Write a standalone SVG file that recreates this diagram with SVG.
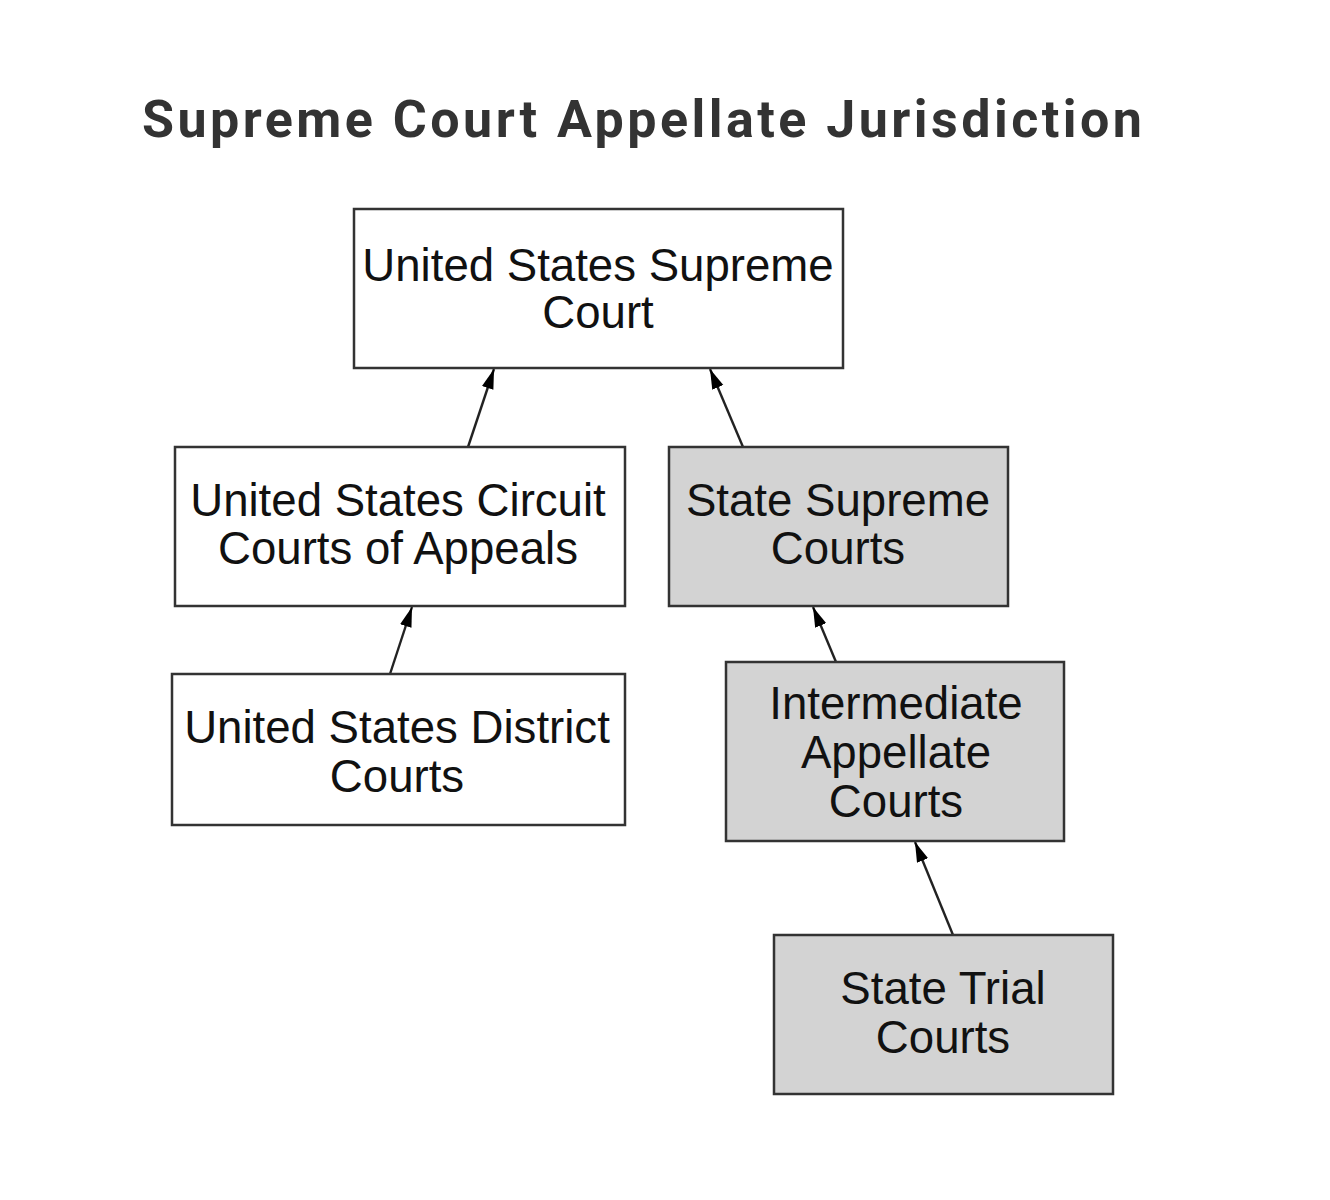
<svg xmlns="http://www.w3.org/2000/svg" width="1330" height="1200" viewBox="0 0 1330 1200">
<style>
.box{stroke:#333;stroke-width:2.5}
.white{fill:#ffffff}
.grey{fill:#d3d3d3}
.lbl{font-family:"Liberation Sans",Arial,sans-serif;font-size:45.6px;fill:#111;text-anchor:middle}
.title{font-family:Roboto,"Liberation Sans",sans-serif;font-weight:bold;font-size:52px;fill:#333}
.edge{stroke:#222;stroke-width:2.4;fill:none;marker-end:url(#arr)}
</style>
<defs>
<marker id="arr" markerUnits="userSpaceOnUse" markerWidth="22" markerHeight="14" refX="20" refY="6" orient="auto">
<path d="M0,0 L20,6 L0,12 Z" fill="#000"/>
</marker>
</defs>
<rect width="1330" height="1200" fill="#ffffff"/>
<text class="title" x="142" y="137" textLength="1000" lengthAdjust="spacing">Supreme Court Appellate Jurisdiction</text>
<g id="connectors">
<line class="edge" x1="468" y1="447" x2="494" y2="369"/>
<line class="edge" x1="743" y1="447" x2="710" y2="369"/>
<line class="edge" x1="390" y1="674" x2="412" y2="607"/>
<line class="edge" x1="836" y1="662" x2="813" y2="607"/>
<line class="edge" x1="953" y1="935" x2="915" y2="842"/>
</g>
<g id="us-supreme-court">
<rect class="box white" x="354" y="209" width="489" height="159"/>
<text class="lbl" x="598" y="281">United States Supreme</text>
<text class="lbl" x="598" y="328">Court</text>
</g>
<g id="us-circuit-courts">
<rect class="box white" x="175" y="447" width="450" height="159"/>
<text class="lbl" x="398" y="516">United States Circuit</text>
<text class="lbl" x="398" y="564">Courts of Appeals</text>
</g>
<g id="us-district-courts">
<rect class="box white" x="172" y="674" width="453" height="151"/>
<text class="lbl" x="397" y="743">United States District</text>
<text class="lbl" x="397" y="792">Courts</text>
</g>
<g id="state-supreme-courts">
<rect class="box grey" x="669" y="447" width="339" height="159"/>
<text class="lbl" x="838" y="516">State Supreme</text>
<text class="lbl" x="838" y="564">Courts</text>
</g>
<g id="intermediate-appellate-courts">
<rect class="box grey" x="726" y="662" width="338" height="179"/>
<text class="lbl" x="896" y="719">Intermediate</text>
<text class="lbl" x="896" y="768">Appellate</text>
<text class="lbl" x="896" y="817">Courts</text>
</g>
<g id="state-trial-courts">
<rect class="box grey" x="774" y="935" width="339" height="159"/>
<text class="lbl" x="943" y="1004">State Trial</text>
<text class="lbl" x="943" y="1053">Courts</text>
</g>
</svg>
